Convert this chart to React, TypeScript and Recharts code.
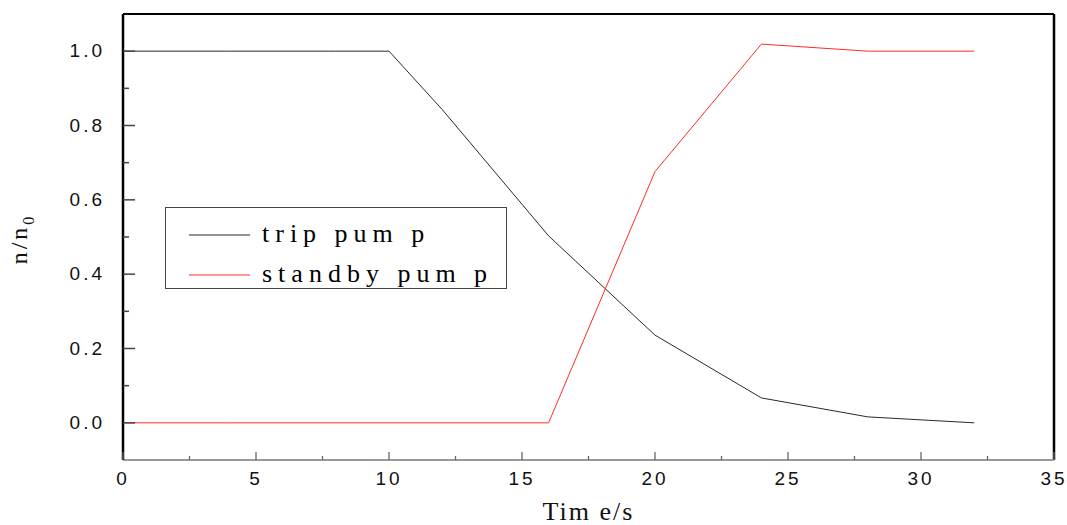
import React from "react";
import { Legend, Line, LineChart, ReferenceLine, XAxis, YAxis } from "recharts";

// ---- data ------------------------------------------------------------------
const TIME = [0, 4, 8, 10, 12, 16, 20, 24, 28, 32];
const TRIP = [1, 1, 1, 1, 0.843, 0.503, 0.236, 0.067, 0.016, 0];
const STANDBY = [0, 0, 0, 0, 0, 0, 0.676, 1.019, 1.0, 1.0];

const X_MAJOR = [0, 5, 10, 15, 20, 25, 30, 35];
const X_MINOR = [2.5, 7.5, 12.5, 17.5, 22.5, 27.5, 32.5];
const Y_MAJOR = [0, 0.2, 0.4, 0.6, 0.8, 1.0];
const Y_MINOR = [0.1, 0.3, 0.5, 0.7, 0.9];

const SERIES = [
  { key: "trip", name: "trip pum p", color: "#2a2a2a" },
  { key: "standby", name: "standby pum p", color: "#ff2a2a" },
];

const W = 1067;
const H = 525;
const SANS = "'Liberation Sans', Arial, sans-serif";
const SERIF = "'Liberation Serif', 'Times New Roman', serif";
const TICK_COLOR = "#444";

const rows = TIME.map((t, i) => ({ t, trip: TRIP[i], standby: STANDBY[i] }));

// ticks are drawn inward, so the custom tick draws its own line
const X_MARGIN = 25;
function XTick(props: any) {
  const { x, y, payload } = props;
  const major = X_MAJOR.includes(payload.value);
  const axisY = y - X_MARGIN;
  return (
    <g>
      <line x1={x} x2={x} y1={axisY} y2={axisY - (major ? 8 : 4)} stroke="#666" strokeWidth={1.3} />
      {major && (
        <text x={x} y={y} textAnchor="middle" fontFamily={SANS} fontSize={19} letterSpacing={3} fill="#111">
          {payload.value}
        </text>
      )}
    </g>
  );
}

const Y_MARGIN = 18;
function YTick(props: any) {
  const { x, y, payload } = props;
  const major = Y_MAJOR.some((v) => Math.abs(v - payload.value) < 1e-9);
  const axisX = x + Y_MARGIN;
  return (
    <g>
      <line x1={axisX} x2={axisX + (major ? 12 : 6)} y1={y} y2={y} stroke={TICK_COLOR} strokeWidth={1.5} />
      {major && (
        <text x={x} y={y + 6} textAnchor="end" fontFamily={SANS} fontSize={19} letterSpacing={3} fill="#111">
          {payload.value.toFixed(1)}
        </text>
      )}
    </g>
  );
}

function LegendBox() {
  return (
    <svg width={342} height={82} style={{ display: "block" }}>
      <rect x={0.5} y={0.5} width={341} height={81} fill="#fff" stroke="#444" strokeWidth={1} />
      {SERIES.map((s, i) => (
        <g key={s.key}>
          <line x1={24} x2={85} y1={28 + i * 40} y2={28 + i * 40} stroke={s.color} strokeWidth={1} />
          <text x={97} y={35 + i * 40} fontFamily={SERIF} fontSize={26} letterSpacing={6} fill="#000">
            {s.name}
          </text>
        </g>
      ))}
    </svg>
  );
}

export default function App() {
  return (
    <div style={{ position: "absolute", left: 0, top: 0, width: W, height: H, background: "#fff" }}>
      <LineChart width={W} height={H} data={rows} margin={{ top: 14, right: 13, left: 0, bottom: 0 }}>
        <XAxis
          dataKey="t"
          type="number"
          domain={[0, 35]}
          ticks={[...X_MAJOR, ...X_MINOR].sort((a, b) => a - b)}
          interval={0}
          height={65}
          tickSize={0}
          tickMargin={X_MARGIN}
          tickLine={false}
          axisLine={{ stroke: "#999", strokeWidth: 2 }}
          tick={XTick}
          label={{
            value: "Tim e/s",
            position: "insideBottom",
            offset: 5,
            fontFamily: SERIF,
            fontSize: 26,
            letterSpacing: 2,
            fill: "#111",
          }}
        />
        <YAxis
          type="number"
          domain={[-0.1, 1.1]}
          ticks={[...Y_MAJOR, ...Y_MINOR].sort((a, b) => a - b)}
          interval={0}
          width={123}
          tickSize={0}
          tickMargin={Y_MARGIN}
          tickLine={false}
          axisLine={{ stroke: "#000", strokeWidth: 2.5 }}
          tick={YTick}
          allowDataOverflow
          label={({ viewBox }: any) => {
            const cx = viewBox.x + 27;
            const cy = viewBox.y + viewBox.height / 2 + 2;
            return (
              <text
                x={cx}
                y={cy}
                transform={`rotate(-90, ${cx}, ${cy})`}
                textAnchor="middle"
                fontFamily={SERIF}
                fontSize={24}
                letterSpacing={3}
                fill="#111"
              >
                n/n
                <tspan fontSize={16} dy={7}>
                  0
                </tspan>
              </text>
            );
          }}
        />
        <ReferenceLine y={1.1} stroke="#000" strokeWidth={2} />
        <ReferenceLine x={35} stroke="#000" strokeWidth={2.5} />
        <Legend
          layout="horizontal"
          verticalAlign="middle"
          align="center"
          wrapperStyle={{ left: 165, top: 207, width: 342, height: 82 }}
          content={LegendBox}
        />
        {SERIES.map((s) => (
          <Line
            key={s.key}
            dataKey={s.key}
            name={s.name}
            type="linear"
            stroke={s.color}
            strokeWidth={1}
            dot={false}
            isAnimationActive={false}
          />
        ))}
      </LineChart>
    </div>
  );
}
